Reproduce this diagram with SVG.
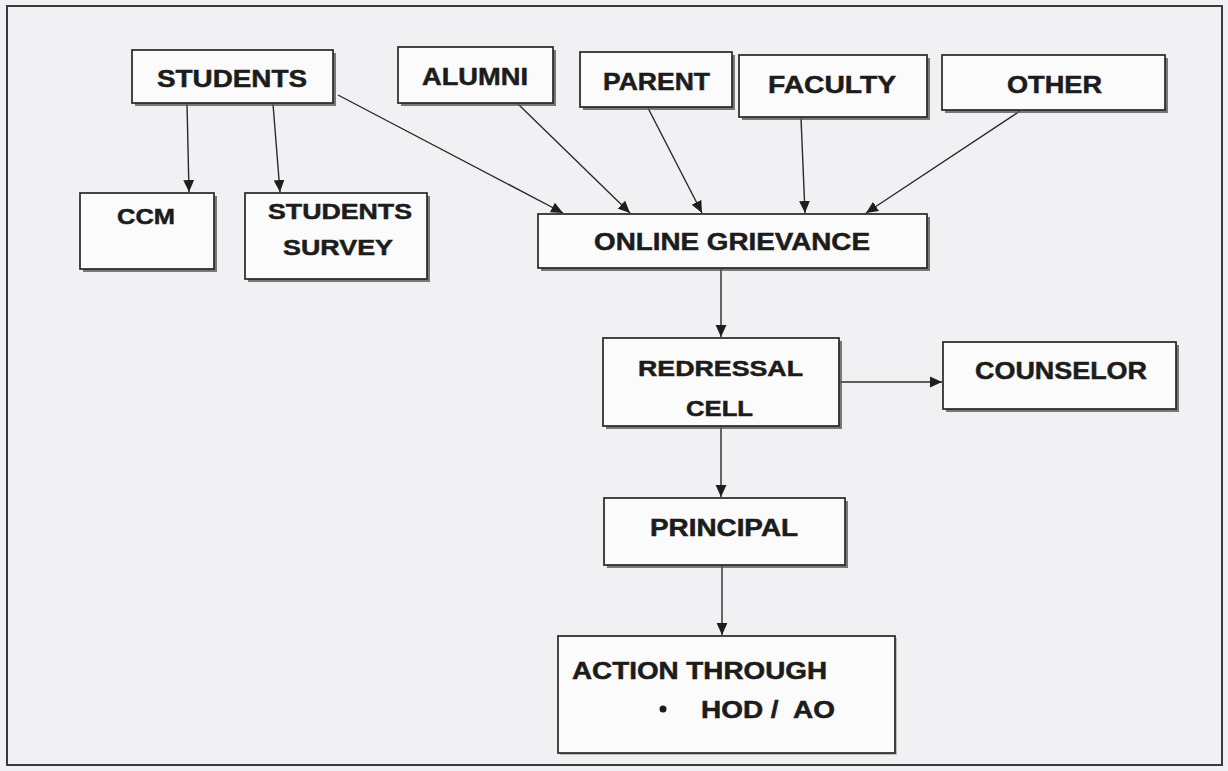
<svg xmlns="http://www.w3.org/2000/svg" width="1228" height="771" viewBox="0 0 1228 771">
<defs>
<style>
.bg{fill:#f1f1f3}
.frame{fill:none;stroke:#3a3a3a;stroke-width:2}
.sh{fill:#5a5a5a;opacity:0.8}
.box{fill:#fbfbfb;stroke:#262626;stroke-width:1.7}
.t{font-family:"Liberation Sans",Arial,sans-serif;font-weight:bold;font-size:24px;fill:#1c1c1c;stroke:#1c1c1c;stroke-width:0.5}
.c{fill:none;stroke:#2a2a2a;stroke-width:1.4}
</style>
<marker id="ah" viewBox="0 0 10 10" refX="10" refY="5" markerWidth="12" markerHeight="12" markerUnits="userSpaceOnUse" orient="auto">
<path d="M0,0.5 L10,5 L0,9.5 Z" fill="#1e1e1e"/>
</marker>
</defs>
<rect class="bg" x="0" y="0" width="1228" height="771"/>
<rect class="frame" x="7" y="6" width="1215" height="759"/>

<g id="connectors">
<line class="c" x1="187" y1="104" x2="189" y2="192" marker-end="url(#ah)"/>
<line class="c" x1="273" y1="104" x2="280" y2="192" marker-end="url(#ah)"/>
<line class="c" x1="338" y1="95" x2="563" y2="213" marker-end="url(#ah)"/>
<line class="c" x1="518" y1="104" x2="630" y2="213" marker-end="url(#ah)"/>
<line class="c" x1="648" y1="108" x2="702" y2="213" marker-end="url(#ah)"/>
<line class="c" x1="801" y1="118" x2="805" y2="213" marker-end="url(#ah)"/>
<line class="c" x1="1020" y1="111" x2="866" y2="213" marker-end="url(#ah)"/>
<line class="c" x1="721" y1="269" x2="721" y2="337" marker-end="url(#ah)"/>
<line class="c" x1="840" y1="382" x2="942" y2="382" marker-end="url(#ah)"/>
<line class="c" x1="721" y1="427" x2="721" y2="497" marker-end="url(#ah)"/>
<line class="c" x1="722" y1="566" x2="722" y2="635" marker-end="url(#ah)"/>
</g>

<g id="students">
<rect class="sh" x="135" y="53" width="201" height="53"/>
<rect class="box" x="132" y="50" width="201" height="53"/>
<text class="t" x="157" y="87" textLength="150" lengthAdjust="spacingAndGlyphs">STUDENTS</text>
</g>
<g id="alumni">
<rect class="sh" x="401" y="50" width="155" height="56"/>
<rect class="box" x="398" y="47" width="155" height="56"/>
<text class="t" x="422" y="85" textLength="106" lengthAdjust="spacingAndGlyphs">ALUMNI</text>
</g>
<g id="parent">
<rect class="sh" x="583" y="55" width="152" height="55"/>
<rect class="box" x="580" y="52" width="152" height="55"/>
<text class="t" x="603" y="90" textLength="107" lengthAdjust="spacingAndGlyphs">PARENT</text>
</g>
<g id="faculty">
<rect class="sh" x="742" y="58" width="188" height="62"/>
<rect class="box" x="739" y="55" width="188" height="62"/>
<text class="t" x="768" y="93" textLength="128" lengthAdjust="spacingAndGlyphs">FACULTY</text>
</g>
<g id="other">
<rect class="sh" x="945" y="58" width="223" height="55"/>
<rect class="box" x="942" y="55" width="223" height="55"/>
<text class="t" x="1007" y="93" textLength="95" lengthAdjust="spacingAndGlyphs">OTHER</text>
</g>
<g id="ccm">
<rect class="sh" x="83" y="196" width="134" height="76"/>
<rect class="box" x="80" y="193" width="134" height="76"/>
<text class="t" x="117" y="224" textLength="58" lengthAdjust="spacingAndGlyphs" style="font-size:22px">CCM</text>
</g>
<g id="students-survey">
<rect class="sh" x="248" y="196" width="182" height="86"/>
<rect class="box" x="245" y="193" width="182" height="86"/>
<text class="t" x="268" y="219" textLength="144" lengthAdjust="spacingAndGlyphs" style="font-size:22px">STUDENTS</text>
<text class="t" x="283" y="255" textLength="110" lengthAdjust="spacingAndGlyphs" style="font-size:22px">SURVEY</text>
</g>
<g id="online-grievance">
<rect class="sh" x="541" y="217" width="389" height="54"/>
<rect class="box" x="538" y="214" width="389" height="54"/>
<text class="t" x="594" y="250" textLength="276" lengthAdjust="spacingAndGlyphs">ONLINE GRIEVANCE</text>
</g>
<g id="redressal-cell">
<rect class="sh" x="606" y="341" width="236" height="88"/>
<rect class="box" x="603" y="338" width="236" height="88"/>
<text class="t" x="638" y="376" textLength="165" lengthAdjust="spacingAndGlyphs" style="font-size:22px">REDRESSAL</text>
<text class="t" x="686" y="416" textLength="67" lengthAdjust="spacingAndGlyphs" style="font-size:22px">CELL</text>
</g>
<g id="counselor">
<rect class="sh" x="946" y="345" width="233" height="67"/>
<rect class="box" x="943" y="342" width="233" height="67"/>
<text class="t" x="975" y="379" textLength="172" lengthAdjust="spacingAndGlyphs">COUNSELOR</text>
</g>
<g id="principal">
<rect class="sh" x="607" y="501" width="241" height="67"/>
<rect class="box" x="604" y="498" width="241" height="67"/>
<text class="t" x="650" y="536" textLength="148" lengthAdjust="spacingAndGlyphs" style="font-size:23px">PRINCIPAL</text>
</g>
<g id="action-through">
<rect class="sh" x="560" y="638" width="337" height="117" style="opacity:0.35"/>
<rect class="box" x="558" y="636" width="337" height="117"/>
<text class="t" x="572" y="679" textLength="255" lengthAdjust="spacingAndGlyphs" style="font-size:23px">ACTION THROUGH</text>
<circle cx="663" cy="709" r="3.5" fill="#1c1c1c"/>
<text class="t" x="701" y="718" textLength="134" lengthAdjust="spacingAndGlyphs" style="font-size:23px;white-space:pre" xml:space="preserve">HOD /  AO</text>
</g>
</svg>
